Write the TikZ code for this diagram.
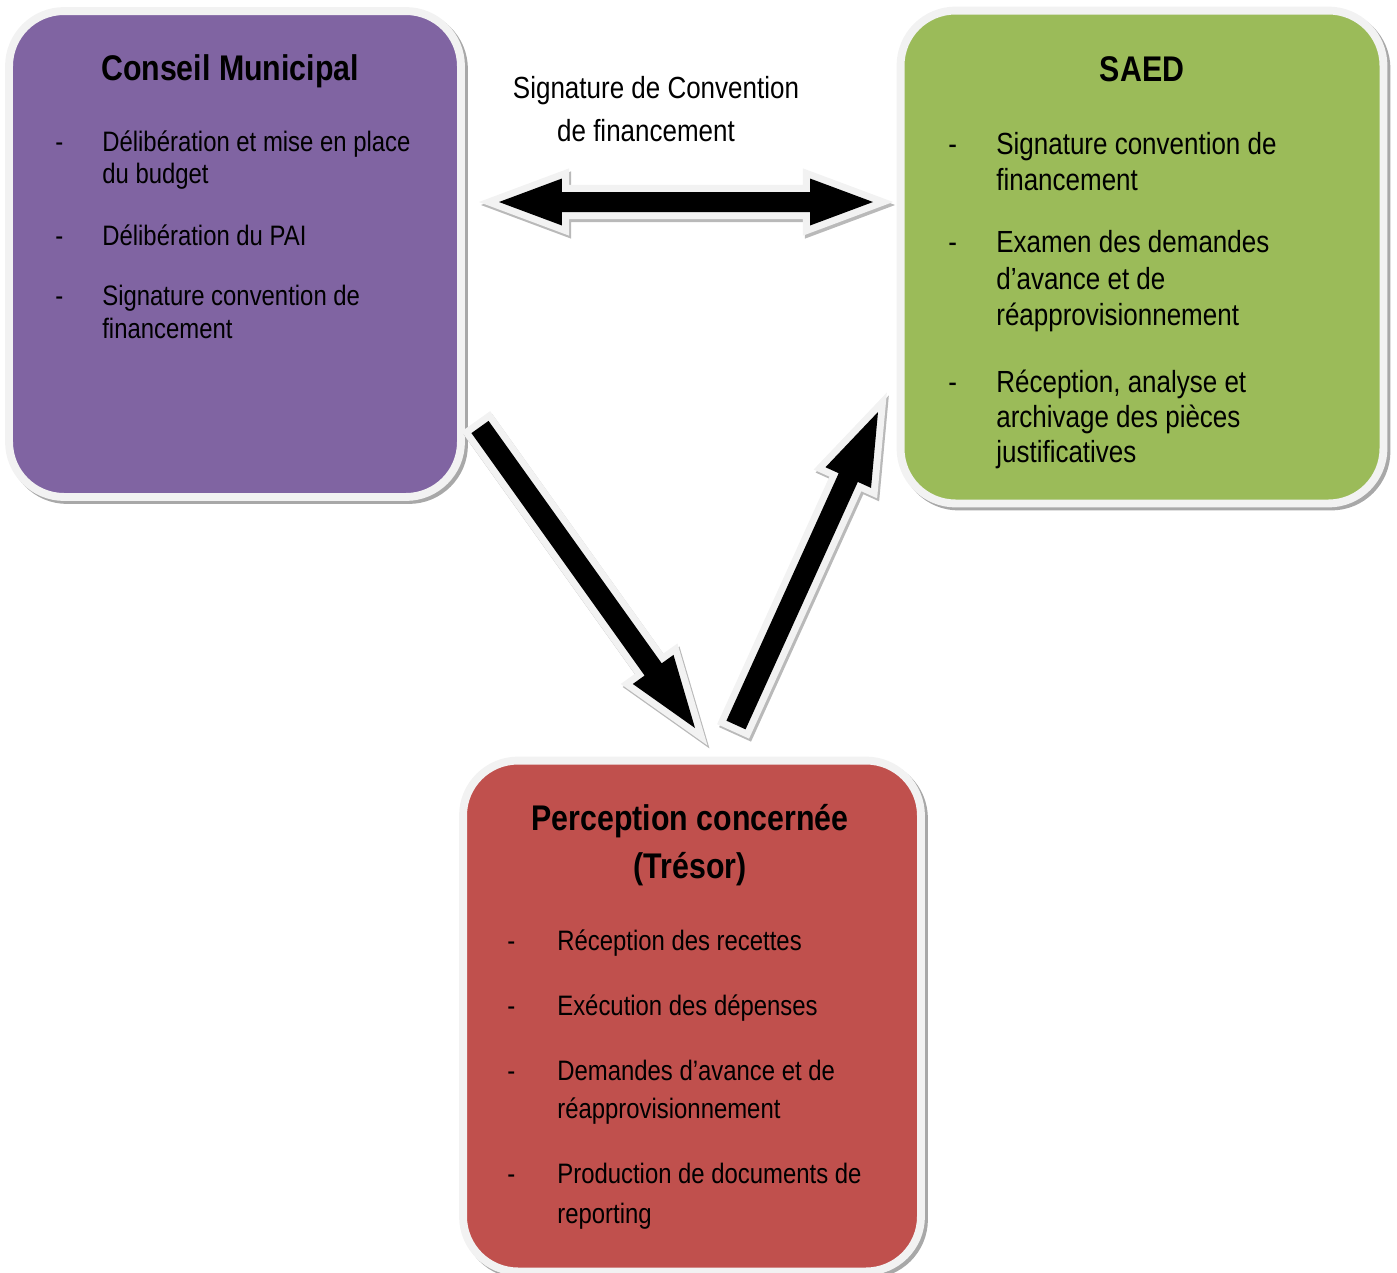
\documentclass[tikz,border=0pt]{standalone}
\usepackage{fontspec}
\setmainfont{Liberation Sans}[FakeStretch=0.85]
\usetikzlibrary{calc}
\definecolor{cmpurple}{HTML}{8064A2}
\definecolor{saedgreen}{HTML}{9BBB59}
\definecolor{tresred}{HTML}{C0504D}
\definecolor{rimgray}{HTML}{F2F2F2}
\definecolor{shadegray}{HTML}{A8A8A8}
\tikzset{
  box/.style={rectangle, rounded corners=1.1cm, draw=rimgray, line width=4.5pt, inner sep=0pt,
    preaction={draw=shadegray, line width=4.5pt, transform canvas={shift={(0.06cm,-0.06cm)}}}},
  fatarrow/.style={fill=black, line join=miter,
    preaction={draw=shadegray!80, fill=shadegray!80, line width=8pt, transform canvas={shift={(0.04cm,-0.06cm)}}},
    preaction={draw=rimgray, line width=8pt}},
  txt/.style={anchor=base west, inner sep=0pt, font=\fontsize{16}{19}\selectfont},
  txtbig/.style={txt, font=\fontsize{17.4}{21}\selectfont},
  head/.style={anchor=base, inner sep=0pt, font=\bfseries\fontsize{20.3}{24}\selectfont}
}
% block arrow from #1 to #2
\newcommand\fatarrow[2]{%
  \coordinate (hb) at ($(#2)!\headlen!(#1)$);
  \path[fatarrow] ($(#1)!\shafthw!90:(#2)$) -- ($(hb)!\shafthw!90:(#2)$) -- ($(hb)!\headhw!90:(#2)$) -- (#2)
    -- ($(hb)!\headhw!-90:(#2)$) -- ($(hb)!\shafthw!-90:(#2)$) -- ($(#1)!\shafthw!-90:(#2)$) -- cycle;}
% block arrow with two heads
\newcommand\twinarrow[2]{%
  \coordinate (ha) at ($(#1)!\headlen!(#2)$);
  \coordinate (hb) at ($(#2)!\headlen!(#1)$);
  \path[fatarrow] (#1) -- ($(ha)!\headhw!90:(#2)$) -- ($(ha)!\shafthw!90:(#2)$) -- ($(hb)!\shafthw!-90:(#1)$)
    -- ($(hb)!\headhw!-90:(#1)$) -- (#2) -- ($(hb)!\headhw!90:(#1)$) -- ($(hb)!\shafthw!90:(#1)$)
    -- ($(ha)!\shafthw!-90:(#2)$) -- ($(ha)!\headhw!-90:(#2)$) -- cycle;}
\begin{document}
\begin{tikzpicture}[x=0.02cm, y=-0.02cm]
  \useasboundingbox (0,0) rectangle (1397,1272);
  %\draw[gray!30] (0,0) grid[step=100] (1397,1272);
  \node[box, fill=cmpurple, minimum width=9.04cm, minimum height=9.72cm] (cm) at (235,254) {};
  \node[box, fill=saedgreen, minimum width=9.66cm, minimum height=9.86cm] (saed) at (1142,257) {};
  \node[box, fill=tresred, minimum width=9.16cm, minimum height=10.22cm] (tres) at (692,1016) {};

  \coordinate (cm-e) at (499,202);  \coordinate (saed-w) at (873,202);
  \coordinate (cm-se) at (480,427); \coordinate (tres-n) at (695,728);
  \coordinate (tres-ne) at (736,725); \coordinate (saed-sw) at (878,412);
  \def\shafthw{0.21cm} \def\headhw{0.5cm} \def\headlen{1.44cm}
  \fatarrow{cm-se}{tres-n}
  \fatarrow{tres-ne}{saed-sw}
  {\def\shafthw{0.2cm} \def\headhw{0.47cm} \def\headlen{1.26cm}
   \twinarrow{cm-e}{saed-w}}

  \node[txtbig, anchor=base] (sig1) at (656,98) {Signature de Convention};
  \node[txtbig, anchor=base] (sig2) at (646,141) {de financement};

  % Conseil Municipal
  \node[head] (cm-t) at (230,80) {Conseil Municipal};
  \foreach \y [count=\i] in {151,245,305} \node[txt] (cm-d\i) at (55,\y) {-};
  \foreach \y/\t [count=\i] in {151/{Délibération et mise en place},183/du budget,245/{Délibération du PAI},
      305/{Signature convention de},338/financement}
    \node[txt] (cm-\i) at (102,\y) {\t};

  % SAED
  \node[head] (saed-t) at (1142,81) {SAED};
  \foreach \y [count=\i] in {154,252,392} \node[txtbig] (saed-d\i) at (948,\y) {-};
  \foreach \y/\t [count=\i] in {154/{Signature convention de},190/financement,252/{Examen des demandes},
      289/{d’avance et de},325/réapprovisionnement,392/{Réception, analyse et},427/{archivage des pièces},
      462/justificatives}
    \node[txtbig] (saed-\i) at (996,\y) {\t};

  % Perception
  \node[head] (tres-t1) at (690,830) {Perception concernée};
  \node[head] (tres-t2) at (690,878) {(Trésor)};
  \foreach \y [count=\i] in {950,1015,1080,1183} \node[txt] (tres-d\i) at (507,\y) {-};
  \foreach \y/\t [count=\i] in {950/{Réception des recettes},1015/{Exécution des dépenses},
      1080/{Demandes d’avance et de},1118/réapprovisionnement,1183/{Production de documents de},1223/reporting}
    \node[txt] (tres-\i) at (557,\y) {\t};
\end{tikzpicture}
\end{document}
